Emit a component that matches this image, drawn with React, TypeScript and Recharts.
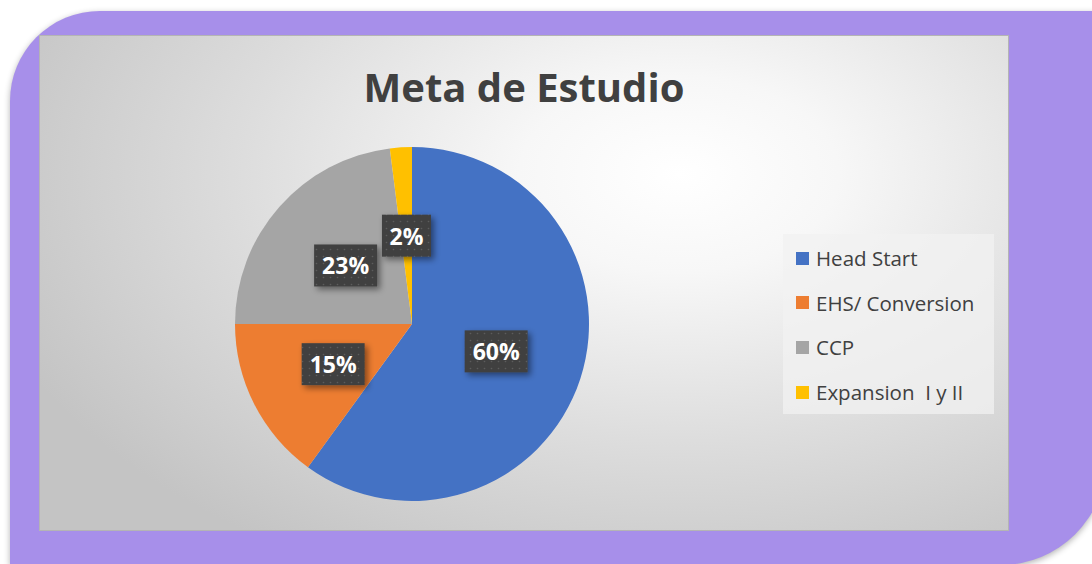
import React from "react";
import { PieChart, Pie, Cell, Legend } from "recharts";

const categories = ["Head Start", "EHS/ Conversion", "CCP", "Expansion  I y II"];
const values = [60, 15, 23, 2];
const colors = ["#4472C4", "#ED7D31", "#A5A5A5", "#FFC000"];

const data = categories.map((name, i) => ({ name, value: values[i] }));

const RADIAN = Math.PI / 180;

function renderLabel(props: any) {
  const { cx, cy, midAngle, outerRadius, percent, index } = props;
  const r = outerRadius * 0.5;
  const x = cx + r * Math.cos(-midAngle * RADIAN);
  const y = cy + r * Math.sin(-midAngle * RADIAN);
  const text = `${Math.round(percent * 100)}%`;
  const w = text.length > 2 ? 63 : 49;
  const h = 42;
  const pid = `dots-${index}`;
  return (
    <g>
      <defs>
        <pattern id={pid} width="7" height="7" patternUnits="userSpaceOnUse">
          <rect width="7" height="7" fill="#404040" />
          <circle cx="3.5" cy="3.5" r="0.8" fill="#5c5c5c" />
        </pattern>
        <filter id={`sh-${index}`} x="-30%" y="-30%" width="160%" height="160%">
          <feDropShadow dx="3" dy="3" stdDeviation="3" floodColor="#000" floodOpacity="0.45" />
        </filter>
      </defs>
      <rect
        x={x - w / 2}
        y={y - h / 2}
        width={w}
        height={h}
        fill={`url(#${pid})`}
        filter={`url(#sh-${index})`}
      />
      <text
        x={x}
        y={y}
        textAnchor="middle"
        dominantBaseline="central"
        fill="#ffffff"
        fontFamily="'Open Sans', sans-serif"
        fontWeight="bold"
        fontSize={23}
      >
        {text}
      </text>
    </g>
  );
}

function LegendBox() {
  return (
    <div
      style={{
        width: 211,
        height: 180,
        background: "rgba(242,242,242,0.75)",
        position: "relative",
        fontFamily: "'Open Sans', sans-serif",
        fontSize: 20.5,
        color: "#404040",
      }}
    >
      {categories.map((c, i) => (
        <div
          key={c}
          style={{
            position: "absolute",
            left: 13,
            top: 24 + i * 44.7 - 14,
            height: 28,
            display: "flex",
            alignItems: "center",
            whiteSpace: "pre",
          }}
        >
          <span
            style={{
              display: "inline-block",
              width: 13,
              height: 13,
              background: colors[i],
              marginRight: 7,
            }}
          />
          {c}
        </div>
      ))}
    </div>
  );
}

export default function App() {
  return (
    <div
      style={{
        position: "absolute",
        left: 0,
        top: 0,
        width: 1092,
        height: 564,
        overflow: "hidden",
        background: "#ffffff",
      }}
    >
      <div
        style={{
          position: "absolute",
          left: 9.5,
          top: 11,
          width: 1096,
          height: 554,
          background: "#A78FEA",
          borderRadius: "90px 0 105px 0",
          boxShadow: "0 2px 6px rgba(0,0,0,0.3)",
        }}
      />
      <div
        style={{
          position: "absolute",
          left: 39,
          top: 35,
          width: 968,
          height: 494,
          border: "1px solid #b4b4b4",
          background:
            "radial-gradient(ellipse 75% 90% at 66% 28%, #ffffff 0%, #f7f7f7 22%, #dddddd 60%, #c4c4c4 100%)",
        }}
      >
        <div
          style={{
            position: "absolute",
            left: 0,
            width: 968,
            top: 25,
            textAlign: "center",
            fontFamily: "'Open Sans', sans-serif",
            fontWeight: "bold",
            fontSize: 40,
            color: "#404040",
            lineHeight: "52px",
          }}
        >
          Meta de Estudio
        </div>
        <PieChart width={968} height={494} style={{ position: "absolute", left: 0, top: 0 }}>
          <Pie
            data={data}
            dataKey="value"
            nameKey="name"
            cx={367}
            cy={283}
            outerRadius={177}
            startAngle={90}
            endAngle={-270}
            stroke="none"
            label={renderLabel}
            labelLine={false}
            isAnimationActive={false}
          >
            {data.map((d, i) => (
              <Cell key={d.name} fill={colors[i]} />
            ))}
          </Pie>
          <Legend
            content={() => <LegendBox />}
            wrapperStyle={{ position: "absolute", left: 743, top: 198, width: 211, height: 180 }}
          />
        </PieChart>
      </div>
    </div>
  );
}
